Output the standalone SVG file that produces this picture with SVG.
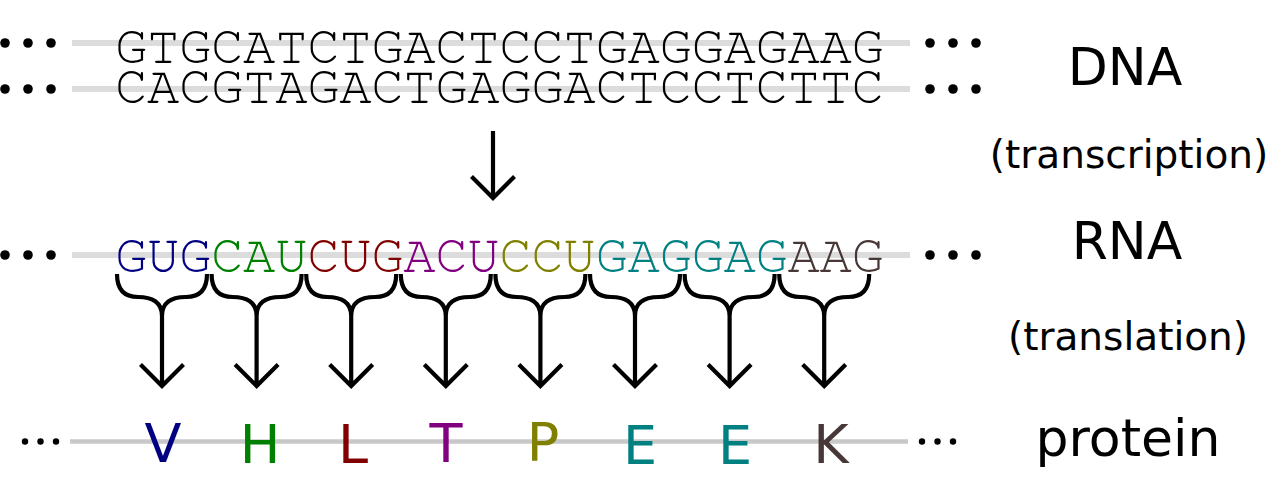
<svg xmlns="http://www.w3.org/2000/svg" xmlns:xlink="http://www.w3.org/1999/xlink" width="1280" height="486" viewBox="0 0 1280 486">
<style>
.strand{stroke:#dcdcdc;stroke-width:6;fill:none}
.pstrand{stroke:#c8c8c8;stroke-width:4.5;fill:none}
.seq{font-family:"Nimbus Mono PS","Nimbus Mono L","FreeMono","Courier 10 Pitch","Liberation Mono",monospace;font-size:54px;fill:#000}
.lbl{font-family:"DejaVu Sans",sans-serif;font-size:52px;fill:#000;text-anchor:middle}
.sub{font-family:"DejaVu Sans",sans-serif;font-size:39px;fill:#000;text-anchor:middle}
.aa{font-family:"DejaVu Sans",sans-serif;font-size:54px;text-anchor:middle}
.conn{stroke:#000;stroke-width:4.2;fill:none}
.dot{fill:#000}
</style>
<defs>
<path id="brace" d="M-45,274 C-45,291 -36,297 -24,297 C-10,297 0,302 0,316 C0,302 10,297 24,297 C36,297 45,291 45,274 M0,312 V386 M-21.5,364.5 L0,386 L21.5,364.5"/>
<g id="bigdots"><circle cx="0" cy="0" r="4.8"/><circle cx="23" cy="0" r="4.8"/><circle cx="46" cy="0" r="4.8"/></g>
<g id="smalldots"><circle cx="0" cy="0" r="3.2"/><circle cx="15.5" cy="0" r="3.2"/><circle cx="31" cy="0" r="3.2"/></g>
</defs>

<g id="dna">
<line class="strand" x1="72" y1="43" x2="910" y2="43"/>
<line class="strand" x1="72" y1="89" x2="910" y2="89"/>
<use xlink:href="#bigdots" x="5" y="43" class="dot"/>
<use xlink:href="#bigdots" x="5" y="89" class="dot"/>
<use xlink:href="#bigdots" x="930" y="43" class="dot"/>
<use xlink:href="#bigdots" x="930" y="89" class="dot"/>
<text class="seq" x="115" y="63" textLength="769" lengthAdjust="spacing">GTGCATCTGACTCCTGAGGAGAAG</text>
<text class="seq" x="115" y="103" textLength="769" lengthAdjust="spacing">CACGTAGACTGAGGACTCCTCTTC</text>
</g>

<g id="rna">
<line class="strand" x1="72" y1="255" x2="910" y2="255"/>
<use xlink:href="#bigdots" x="5" y="255" class="dot"/>
<use xlink:href="#bigdots" x="930" y="255" class="dot"/>
<text class="seq" x="115" y="272" textLength="769" lengthAdjust="spacing"><tspan fill="#000080">GUG</tspan><tspan fill="#008000">CAU</tspan><tspan fill="#800000">CUG</tspan><tspan fill="#800080">ACU</tspan><tspan fill="#808000">CCU</tspan><tspan fill="#008080">GAGGAG</tspan><tspan fill="#483737">AAG</tspan></text>
</g>

<g id="protein">
<line class="pstrand" x1="70" y1="441.5" x2="908" y2="441.5"/>
<use xlink:href="#smalldots" x="25" y="441.5" class="dot"/>
<use xlink:href="#smalldots" x="922" y="441.5" class="dot"/>
<text class="aa" x="163" y="461.5" fill="#000080">V</text>
<text class="aa" x="260" y="463" fill="#008000">H</text>
<text class="aa" x="353" y="463" fill="#800000">L</text>
<text class="aa" x="446" y="462" fill="#800080">T</text>
<text class="aa" x="543" y="461" fill="#808000">P</text>
<text class="aa" x="640" y="464" fill="#008080">E</text>
<text class="aa" x="735" y="464" fill="#008080">E</text>
<text class="aa" x="831" y="463" fill="#483737">K</text>
</g>

<g id="labels">
<text class="lbl" x="1125" y="85">DNA</text>
<text class="sub" x="1129" y="168">(transcription)</text>
<text class="lbl" x="1127" y="259">RNA</text>
<text class="sub" x="1128" y="350">(translation)</text>
<text class="lbl" x="1128" y="456">protein</text>
</g>

<g id="connectors" class="conn">
<path d="M493,131 V198 M471.5,176.5 L493,198 L514.5,176.5"/>
<use xlink:href="#brace" x="162"/>
<use xlink:href="#brace" x="256.6"/>
<use xlink:href="#brace" x="351.2"/>
<use xlink:href="#brace" x="445.8"/>
<use xlink:href="#brace" x="540.4"/>
<use xlink:href="#brace" x="635"/>
<use xlink:href="#brace" x="729.6"/>
<use xlink:href="#brace" x="824.2"/>
</g>
</svg>
